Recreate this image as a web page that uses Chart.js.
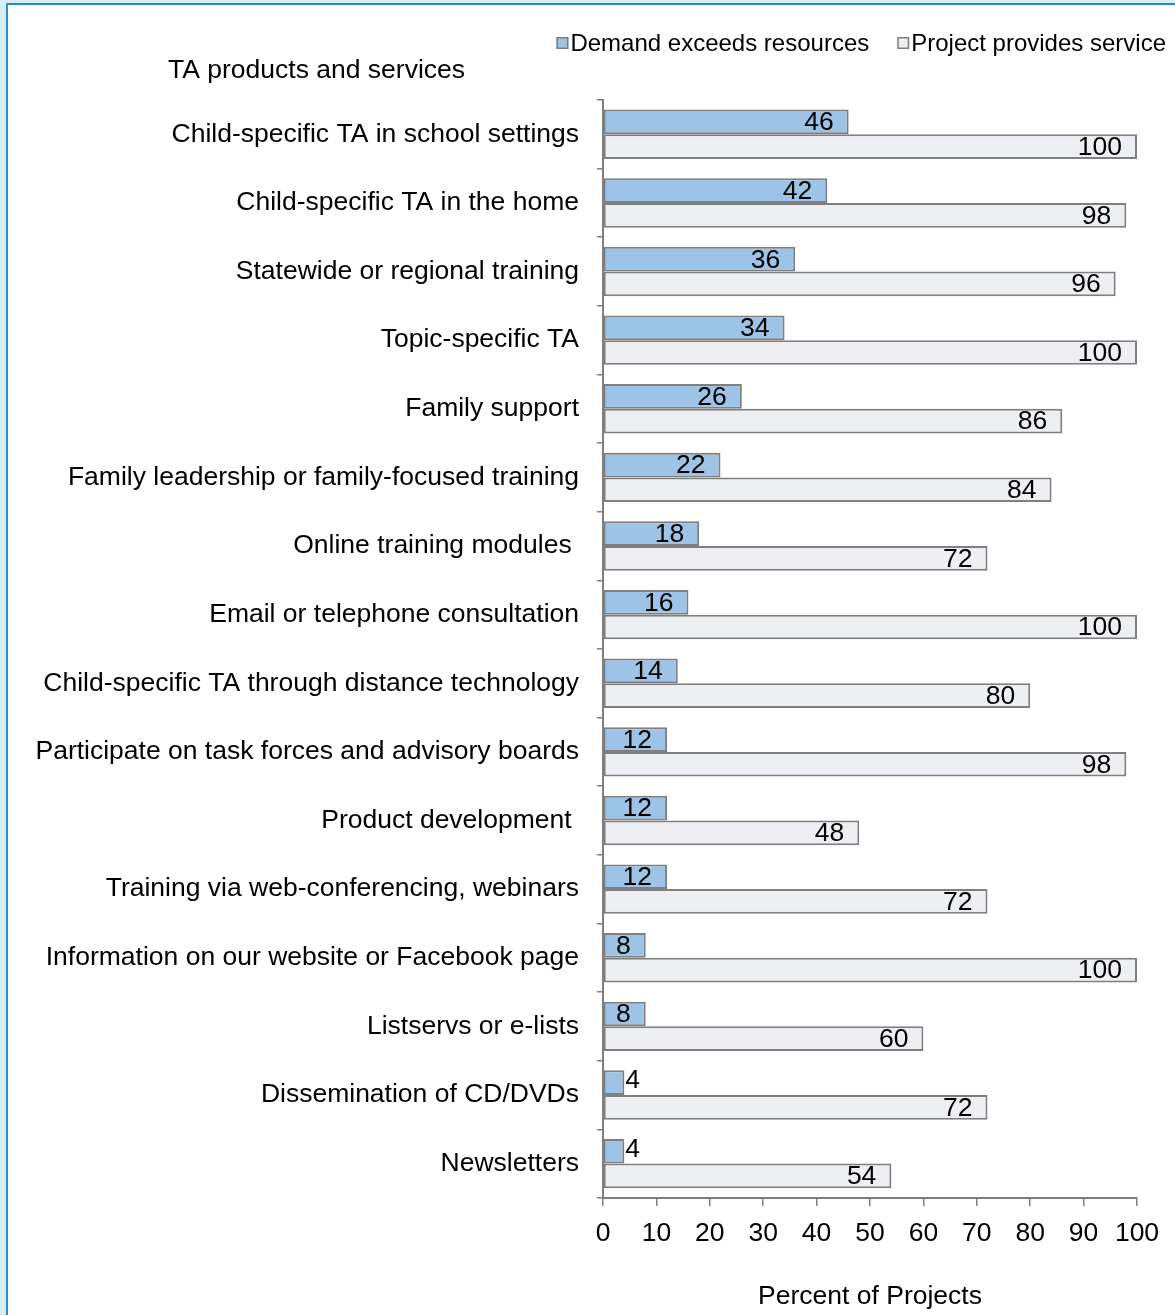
<!DOCTYPE html>
<html>
<head>
<meta charset="utf-8">
<title>TA products and services</title>
<script src="https://cdn.jsdelivr.net/npm/chart.js@4.4.1/dist/chart.umd.min.js"></script>
<style>
  html, body { margin: 0; padding: 0; background: #d8eef5; }
  body { width: 1175px; height: 1315px; overflow: hidden; position: relative; }
  #frame {
    position: absolute; left: 6px; top: 3px; width: 1180px; height: 1320px;
    background: #ffffff; border-left: 2px solid #2f8bcb; border-top: 2px solid #2f8bcb;
  }
  #wrap { position: absolute; left: 0; top: 0; width: 1167px; height: 1310px; }
</style>
</head>
<body>
<div id="frame"><div id="wrap"><canvas id="chart"></canvas></div></div>
<script>
// Service categories (top to bottom)
const categories = [
  'Child-specific TA in school settings',
  'Child-specific TA in the home',
  'Statewide or regional training',
  'Topic-specific TA',
  'Family support',
  'Family leadership or family-focused training',
  'Online training modules ',
  'Email or telephone consultation',
  'Child-specific TA through distance technology',
  'Participate on task forces and advisory boards',
  'Product development ',
  'Training via web-conferencing, webinars',
  'Information on our website or Facebook page',
  'Listservs or e-lists',
  'Dissemination of CD/DVDs',
  'Newsletters'
];

// Percent of projects
const demandExceedsResources = [46, 42, 36, 34, 26, 22, 18, 16, 14, 12, 12, 12, 8, 8, 4, 4];
const projectProvidesService = [100, 98, 96, 100, 86, 84, 72, 100, 80, 98, 48, 72, 100, 60, 72, 54];

const seriesNames = ['Demand exceeds resources', 'Project provides service'];
const seriesFills = ['#9dc3e6', '#eeeff3'];
const axisTitle = 'Percent of Projects';
const headingText = 'TA products and services';
const xMin = 0, xMax = 100, xStep = 10;

const FONT = '"Liberation Sans", Arial, Helvetica, sans-serif';
const SIZE = 26.5;
const EDGE = '#7f7f7f';

// Value labels at the inside end of each bar, pushed outside when the bar is too short
const barValueLabels = {
  id: 'barValueLabels',
  afterDatasetsDraw(chart) {
    const ctx = chart.ctx;
    const pad = 15;
    ctx.save();
    ctx.font = SIZE + 'px ' + FONT;
    ctx.fillStyle = '#000';
    ctx.textBaseline = 'middle';
    chart.data.datasets.forEach((ds, di) => {
      const meta = chart.getDatasetMeta(di);
      meta.data.forEach((bar, i) => {
        const txt = String(ds.data[i]);
        const w = ctx.measureText(txt).width;
        const len = bar.x - bar.base;
        if (len > w + pad + 3) {
          ctx.textAlign = 'right';
          ctx.fillText(txt, bar.x - pad, bar.y + 1);
        } else {
          ctx.textAlign = 'left';
          ctx.fillText(txt, bar.x + 1, bar.y - 2);
        }
      });
    });
    ctx.restore();
  }
};

// Heading above the category labels and the legend in the top right corner
const headingAndLegend = {
  id: 'headingAndLegend',
  afterDraw(chart) {
    const ctx = chart.ctx;
    ctx.save();
    ctx.fillStyle = '#000';
    ctx.textBaseline = 'middle';
    ctx.textAlign = 'left';
    ctx.font = SIZE + 'px ' + FONT;
    ctx.fillText(headingText, 160, 66);

    // legend, right aligned
    ctx.font = '24px ' + FONT;
    const box = 12, gap = 2, itemGap = 28;
    const widths = seriesNames.map(n => ctx.measureText(n).width);
    let total = 0;
    widths.forEach((w, i) => { total += box + gap + w + (i ? itemGap : 0); });
    let x = chart.width - 9 - total;
    const y = 38;
    seriesNames.forEach((name, i) => {
      ctx.fillStyle = seriesFills[i];
      ctx.fillRect(x, y - box / 2, box, box);
      ctx.strokeStyle = EDGE;
      ctx.lineWidth = 1.5;
      ctx.strokeRect(x + 0.75, y - box / 2 + 0.75, box - 1.5, box - 1.5);
      ctx.fillStyle = '#000';
      ctx.fillText(name, x + box + gap, y + 1);
      x += box + gap + widths[i] + itemGap;
    });
    ctx.restore();
  }
};

new Chart(document.getElementById('chart'), {
  type: 'bar',
  data: {
    labels: categories,
    datasets: [
      {
        label: seriesNames[0],
        data: demandExceedsResources,
        backgroundColor: seriesFills[0],
        borderColor: EDGE,
        borderWidth: 2,
        borderSkipped: false
      },
      {
        label: seriesNames[1],
        data: projectProvidesService,
        backgroundColor: seriesFills[1],
        borderColor: EDGE,
        borderWidth: 2,
        borderSkipped: false
      }
    ]
  },
  options: {
    indexAxis: 'y',
    responsive: true,
    maintainAspectRatio: false,
    animation: false,
    datasets: { bar: { categoryPercentage: 0.72, barPercentage: 1.0 } },
    layout: { padding: { top: 95, right: 38, bottom: 2.5, left: 0 } },
    plugins: {
      legend: { display: false },
      title: { display: false },
      tooltip: { enabled: false }
    },
    scales: {
      x: {
        min: xMin,
        max: xMax,
        ticks: { stepSize: xStep, color: '#000', font: { family: FONT, size: SIZE }, padding: 11.5 },
        grid: { drawOnChartArea: false, drawTicks: true, tickLength: 8, color: EDGE, lineWidth: 1.5 },
        border: { display: true, color: EDGE, width: 2 },
        title: {
          display: true,
          text: axisTitle,
          color: '#000',
          font: { family: FONT, size: SIZE },
          padding: { top: 20, bottom: 0 }
        }
      },
      y: {
        afterFit(scale) { scale.width = 595; },
        ticks: { color: '#000', font: { family: FONT, size: SIZE }, padding: 18, autoSkip: false },
        grid: { drawOnChartArea: false, drawTicks: true, tickLength: 6, color: EDGE, lineWidth: 1.5, offset: true },
        border: { display: true, color: EDGE, width: 2 }
      }
    }
  },
  plugins: [barValueLabels, headingAndLegend]
});
</script>
</body>
</html>
